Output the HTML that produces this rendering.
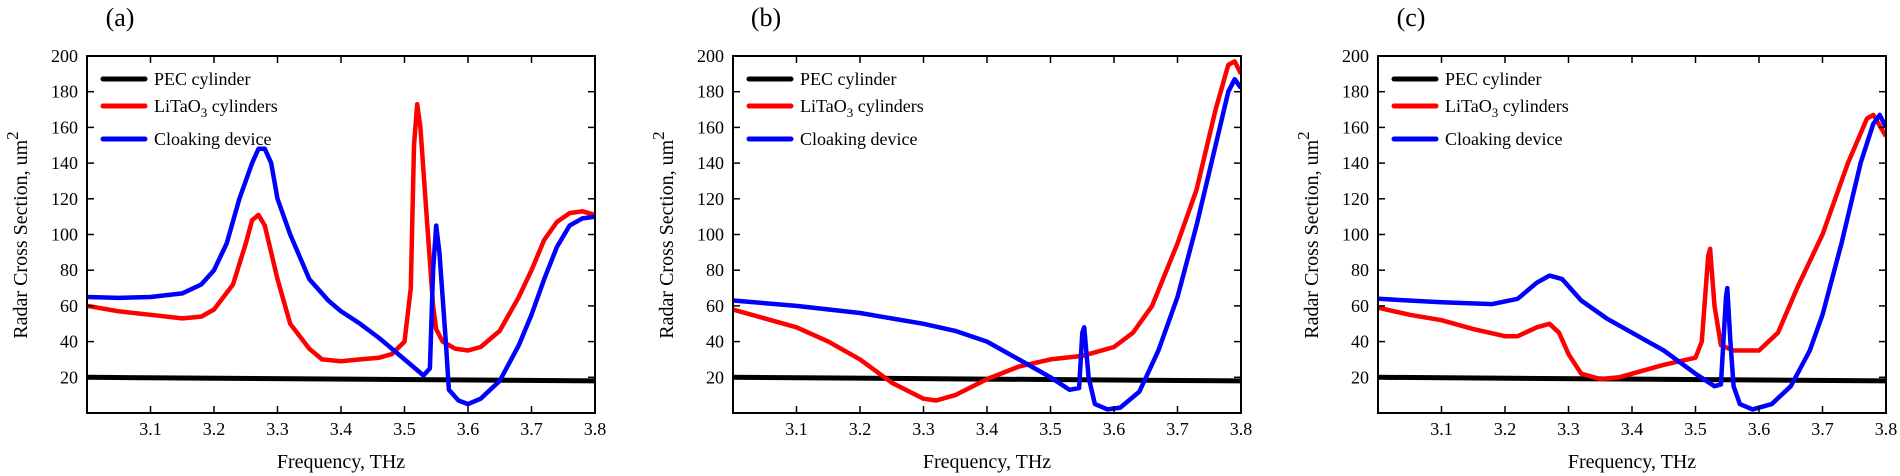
<!DOCTYPE html>
<html><head><meta charset="utf-8">
<style>
html,body{margin:0;padding:0;background:#fff;}
svg{display:block;}
svg text{font-family:"Liberation Serif","DejaVu Serif",serif;}
</style></head>
<body>
<svg id="s" width="1900" height="476" viewBox="0 0 1900 476" xmlns="http://www.w3.org/2000/svg" font-family="Liberation Serif, serif"></svg>
<script>
const NS="http://www.w3.org/2000/svg";
const svg=document.getElementById('s');
function el(t,a,txt){const e=document.createElementNS(NS,t);for(const k in a)e.setAttribute(k,a[k]);if(t==='text')e.setAttribute('font-family','Liberation Serif, serif');if(txt!==undefined)e.textContent=txt;svg.appendChild(e);return e;}
const T=56,B=413,W=508;
const panels=[
{L:87,t:'(a)',
red:[[3.0,60],[3.05,57],[3.1,55],[3.15,53],[3.18,54],[3.2,58],[3.23,72],[3.25,95],[3.26,108],[3.27,111],[3.28,105],[3.3,75],[3.32,50],[3.35,36],[3.37,30],[3.4,29],[3.43,30],[3.46,31],[3.48,33],[3.5,40],[3.51,70],[3.515,150],[3.52,173],[3.525,160],[3.535,110],[3.545,60],[3.55,47],[3.56,40],[3.58,36],[3.6,35],[3.62,37],[3.65,46],[3.68,65],[3.7,80],[3.72,97],[3.74,107],[3.76,112],[3.78,113],[3.8,111]],
blue:[[3.0,65],[3.05,64.5],[3.1,65],[3.15,67],[3.18,72],[3.2,80],[3.22,95],[3.24,120],[3.26,140],[3.27,148],[3.28,148],[3.29,140],[3.3,120],[3.32,100],[3.35,75],[3.38,63],[3.4,57],[3.43,50],[3.46,42],[3.5,30],[3.53,21],[3.54,25],[3.545,80],[3.55,105],[3.555,90],[3.565,40],[3.57,13],[3.585,7],[3.6,5],[3.62,8],[3.65,18],[3.68,38],[3.7,55],[3.72,75],[3.74,93],[3.76,105],[3.78,109],[3.8,110]]},
{L:733,t:'(b)',
red:[[3.0,58],[3.05,53],[3.1,48],[3.15,40],[3.2,30],[3.25,17],[3.3,8],[3.32,7],[3.35,10],[3.4,19],[3.45,26],[3.5,30],[3.55,32],[3.6,37],[3.63,45],[3.66,60],[3.7,95],[3.73,125],[3.76,170],[3.78,195],[3.79,197],[3.8,190]],
blue:[[3.0,63],[3.1,60],[3.2,56],[3.3,50],[3.35,46],[3.4,40],[3.45,30],[3.5,20],[3.53,13],[3.545,14],[3.55,45],[3.553,48],[3.56,20],[3.57,5],[3.59,2],[3.61,3],[3.64,12],[3.67,35],[3.7,65],[3.73,105],[3.76,150],[3.78,180],[3.79,187],[3.8,182]]},
{L:1378,t:'(c)',
red:[[3.0,59],[3.05,55],[3.1,52],[3.15,47],[3.2,43],[3.22,43],[3.25,48],[3.27,50],[3.285,45],[3.3,33],[3.32,22],[3.35,19],[3.38,20],[3.4,22],[3.45,27],[3.5,31],[3.51,40],[3.52,88],[3.523,92],[3.53,60],[3.54,38],[3.56,35],[3.6,35],[3.63,45],[3.66,70],[3.7,100],[3.74,140],[3.77,165],[3.78,167],[3.8,155]],
blue:[[3.0,64],[3.1,62],[3.18,61],[3.22,64],[3.25,73],[3.27,77],[3.29,75],[3.32,63],[3.36,53],[3.4,45],[3.45,35],[3.5,22],[3.53,15],[3.54,16],[3.548,65],[3.55,70],[3.555,40],[3.56,15],[3.57,5],[3.59,2],[3.62,5],[3.65,15],[3.68,35],[3.7,55],[3.73,95],[3.76,140],[3.78,162],[3.79,167],[3.8,160]]}
];
const yv=v=>B-v*(B-T)/200;
panels.forEach(p=>{
  const L=p.L,R=L+W;
  const xf=f=>L+(f-3.0)/0.8*W;
  const pts=a=>a.map(q=>xf(q[0]).toFixed(1)+','+yv(q[1]).toFixed(1)).join(' ');
  const id='c'+L;
  const cp=document.createElementNS(NS,'clipPath');cp.setAttribute('id',id);
  const r=document.createElementNS(NS,'rect');r.setAttribute('x',L);r.setAttribute('y',T);r.setAttribute('width',W);r.setAttribute('height',B-T);cp.appendChild(r);svg.appendChild(cp);
  el('polyline',{points:pts([[3.0,20],[3.8,18]]),fill:'none',stroke:'#000','stroke-width':5,'clip-path':'url(#'+id+')'});
  el('polyline',{points:pts(p.red),fill:'none',stroke:'#ff0000','stroke-width':4.5,'stroke-linejoin':'round','clip-path':'url(#'+id+')'});
  el('polyline',{points:pts(p.blue),fill:'none',stroke:'#0000ff','stroke-width':4.5,'stroke-linejoin':'round','clip-path':'url(#'+id+')'});
  el('rect',{x:L,y:T,width:W,height:B-T,fill:'none',stroke:'#000','stroke-width':2});
  for(let v=20;v<=200;v+=20){
    const y=yv(v);
    el('line',{x1:L,y1:y,x2:L+7,y2:y,stroke:'#000','stroke-width':1.5});
    el('line',{x1:R,y1:y,x2:R-7,y2:y,stroke:'#000','stroke-width':1.5});
    el('text',{x:L-9,y:y+6,'font-size':18,'text-anchor':'end'},String(v));
  }
  for(let i=1;i<=8;i++){
    const x=xf(3.0+i*0.1);
    el('line',{x1:x,y1:B,x2:x,y2:B-7,stroke:'#000','stroke-width':1.5});
    el('line',{x1:x,y1:T,x2:x,y2:T+7,stroke:'#000','stroke-width':1.5});
    el('text',{x:x,y:435,'font-size':18,'text-anchor':'middle'},(3.0+i*0.1).toFixed(1));
  }
  el('text',{x:L+W/2,y:468,'font-size':20,'text-anchor':'middle'},'Frequency, THz');
  const yl=el('text',{x:0,y:0,'font-size':20,'text-anchor':'middle',transform:'translate('+(L-60)+',235) rotate(-90)'});
  yl.innerHTML='Radar Cross Section, um<tspan dy="-9" font-size="17">2</tspan>';
  el('text',{x:L+33,y:26,'font-size':26,'text-anchor':'middle'},p.t);
  const ly=[79,106,139],cols=['#000','#ff0000','#0000ff'];
  ly.forEach((y,i)=>{
    el('line',{x1:L+16,y1:y,x2:L+58,y2:y,stroke:cols[i],'stroke-width':5,'stroke-linecap':'round'});
  });
  el('text',{x:L+67,y:85,'font-size':18},'PEC cylinder');
  const t2=el('text',{x:L+67,y:112,'font-size':18});
  t2.innerHTML='LiTaO<tspan dy="5" font-size="13">3</tspan><tspan dy="-5"> cylinders</tspan>';
  el('text',{x:L+67,y:145,'font-size':18},'Cloaking device');
});
</script>
</body></html>
